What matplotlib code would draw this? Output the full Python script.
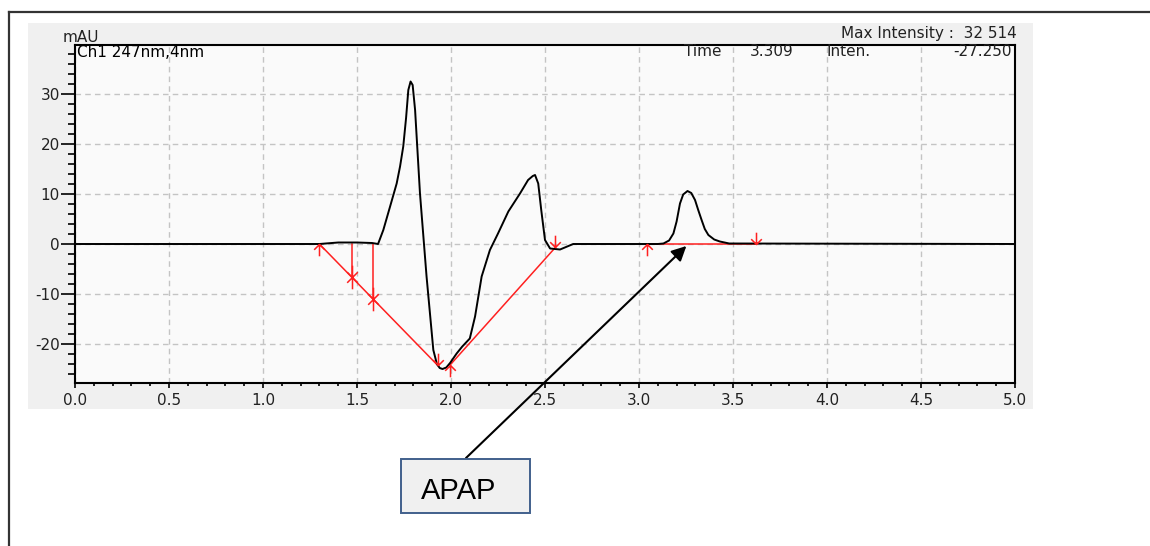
import numpy as np
import matplotlib
matplotlib.use('Agg')
import matplotlib.pyplot as plt
from matplotlib.path import Path
from matplotlib.patches import Rectangle
from matplotlib.lines import Line2D
from matplotlib.ticker import MultipleLocator, FormatStrFormatter

# chromatogram trace (time in min, intensity in mAU)
time = [0.0, 1.30, 1.40, 1.50, 1.58, 1.612, 1.64, 1.676, 1.711, 1.729, 1.746,
        1.761, 1.773, 1.785, 1.796, 1.809, 1.835, 1.87, 1.906, 1.925, 1.94,
        1.955, 1.975, 1.995, 2.03, 2.06, 2.10, 2.128, 2.163, 2.207, 2.25,
        2.305, 2.367, 2.41, 2.435, 2.447, 2.464, 2.48, 2.50, 2.527, 2.58, 2.65,
        3.10, 3.13, 3.16, 3.183, 3.20, 3.218, 3.235, 3.258, 3.278, 3.298,
        3.315, 3.333, 3.35, 3.369, 3.40, 3.43, 3.48, 5.0]
inten = [0.0, 0.0, 0.3, 0.3, 0.2, 0.0, 2.8, 7.5, 12.1, 15.5, 19.5,
         25.2, 30.8, 32.5, 31.8, 26.8, 10.1, -6.5, -21.2, -24.0, -24.8,
         -25.0, -24.7, -23.8, -21.9, -20.5, -18.9, -14.5, -6.5, -1.2, 2.1,
         6.5, 10.1, 12.8, 13.6, 13.8, 12.1, 6.8, 0.8, -0.9, -1.1, 0.0,
         0.0, 0.1, 0.7, 2.1, 4.5, 8.1, 9.9, 10.6, 10.2, 8.8,
         6.8, 4.8, 3.0, 1.8, 0.9, 0.5, 0.1, 0.0]

# integration baselines (red)
base1_t = [1.30, 1.93]
base1_v = [0.0, -24.3]
drop_t = [1.472, 1.587]
drop_v = [-6.6, -11.1]
base2_t = [1.995, 2.555]
base2_v = [-24.2, -0.7]
base3_t = [3.045, 3.62]
base3_v = [0.0, 0.0]

# annotation
peak_label = 'APAP'
peak_xy = (3.252, -0.4)

x_ticks = [0.0, 0.5, 1.0, 1.5, 2.0, 2.5, 3.0, 3.5, 4.0, 4.5, 5.0]
y_ticks = [-20, -10, 0, 10, 20, 30]

W, H = 1150, 546


def fx(px):
    return px / W


def fy(py):
    return 1 - py / H


# arrow-shaped markers, tip sits on the data point
up_arrow = Path([(0, 0), (0, -1), (-0.45, -0.45), (0, 0), (0.45, -0.45)],
                [Path.MOVETO, Path.LINETO, Path.MOVETO, Path.LINETO, Path.LINETO])
down_arrow = Path([(0, 0), (0, 1), (-0.45, 0.45), (0, 0), (0.45, 0.45)],
                  [Path.MOVETO, Path.LINETO, Path.MOVETO, Path.LINETO, Path.LINETO])
cross_arrow = Path([(0, 1), (0, -1), (-0.45, 0.45), (0, 0), (0.45, 0.45),
                    (-0.45, -0.45), (0, 0), (0.45, -0.45)],
                   [Path.MOVETO, Path.LINETO, Path.MOVETO, Path.LINETO, Path.LINETO,
                    Path.MOVETO, Path.LINETO, Path.LINETO])

plt.rcParams['font.family'] = ['DejaVu Sans']
plt.rcParams['axes.unicode_minus'] = False

fig = plt.figure(figsize=(W / 100, H / 100), dpi=100)
fig.patch.set_facecolor('white')

# page frame and grey screenshot panel
fig.add_artist(Line2D([fx(9), fx(9)], [fy(12), 0], color='#333333', lw=1.6))
fig.add_artist(Line2D([fx(9), 1], [fy(12), fy(12)], color='#333333', lw=1.6))
fig.add_artist(Rectangle((fx(28), fy(409)), fx(1033) - fx(28), fy(23) - fy(409),
                         facecolor='#f0f0f0', edgecolor='none', zorder=0))

ax = fig.add_axes([fx(75), fy(383), fx(1015) - fx(75), fy(45) - fy(383)])
ax.set_facecolor('#fafafa')
ax.plot(time, inten, color='black', lw=1.4, zorder=3)

red = '#ff2020'
ax.plot(base1_t, base1_v, color=red, lw=1.1, zorder=2)
ax.plot(base2_t, base2_v, color=red, lw=1.1, zorder=2)
ax.plot(base3_t, base3_v, color=red, lw=1.1, zorder=2)
for t, v in zip(drop_t, drop_v):
    ax.plot([t, t], [0, v], color=red, lw=1.1, zorder=2)
ms = 17
ax.plot([base1_t[0], base2_t[0], base3_t[0]], [base1_v[0], base2_v[0], base3_v[0]],
        ls='none', marker=up_arrow, ms=ms, mec=red, mfc='none', mew=1.1, zorder=4)
ax.plot([base1_t[1], base2_t[1], base3_t[1]], [base1_v[1], base2_v[1], base3_v[1]],
        ls='none', marker=down_arrow, ms=ms, mec=red, mfc='none', mew=1.1, zorder=4)
ax.plot(drop_t, drop_v, ls='none', marker=cross_arrow, ms=ms, mec=red, mfc='none',
        mew=1.1, zorder=4)

ax.set_xlim(0, 5)
ax.set_ylim(-27.8, 39.8)
ax.set_xticks(x_ticks)
ax.set_yticks(y_ticks)
ax.xaxis.set_major_formatter(FormatStrFormatter('%.1f'))
ax.xaxis.set_minor_locator(MultipleLocator(0.1))
ax.yaxis.set_minor_locator(MultipleLocator(2))
ax.tick_params(axis='x', which='major', direction='out', length=3.5, width=1.2,
               pad=4, labelsize=11, labelcolor='#222222')
ax.tick_params(axis='x', which='minor', direction='out', length=2.5, width=1.2)
ax.tick_params(axis='y', which='major', direction='out', length=10, width=1.2,
               pad=1, labelsize=11, labelcolor='#222222')
ax.tick_params(axis='y', which='minor', direction='out', length=5, width=1.2)
ax.grid(True, which='major', color='#c4c4c4', ls=(0, (4, 3)), lw=1)
ax.set_axisbelow(True)
for s in ax.spines.values():
    s.set_linewidth(1.5)
    s.set_color('black')

# header texts
fig.text(fx(63), fy(42), 'mAU', fontsize=11, color='#222222', va='baseline')
fig.text(fx(77), fy(57), 'Ch1 247nm,4nm', fontsize=11, color='black', va='baseline')
fig.text(fx(1017), fy(38), 'Max Intensity :  32 514', fontsize=11, color='#222222',
         ha='right', va='baseline')
fig.text(fx(722), fy(56), 'Time', fontsize=11, color='#222222', ha='right', va='baseline')
fig.text(fx(750), fy(56), '3.309', fontsize=11, color='#222222', va='baseline')
fig.text(fx(827), fy(56), 'Inten.', fontsize=11, color='#222222', va='baseline')
fig.text(fx(1012), fy(56), '-27.250', fontsize=11, color='#222222', ha='right', va='baseline')

# APAP callout
fig.add_artist(Rectangle((fx(401), fy(513)), fx(530) - fx(401), fy(459) - fy(513),
                         facecolor='#f0f0f0', edgecolor='#41608c', lw=1.4, zorder=5))
fig.text(fx(421), fy(499), peak_label, fontsize=21, family='Liberation Sans',
         color='black', va='baseline', zorder=6)
ax.annotate('', xy=peak_xy, xycoords='data',
            xytext=(fx(466), fy(458)), textcoords='figure fraction',
            arrowprops=dict(arrowstyle='-|>', color='black', lw=1.5,
                            mutation_scale=22, shrinkA=0, shrinkB=0),
            annotation_clip=False, zorder=6)

fig.savefig('out.png', dpi=100)
